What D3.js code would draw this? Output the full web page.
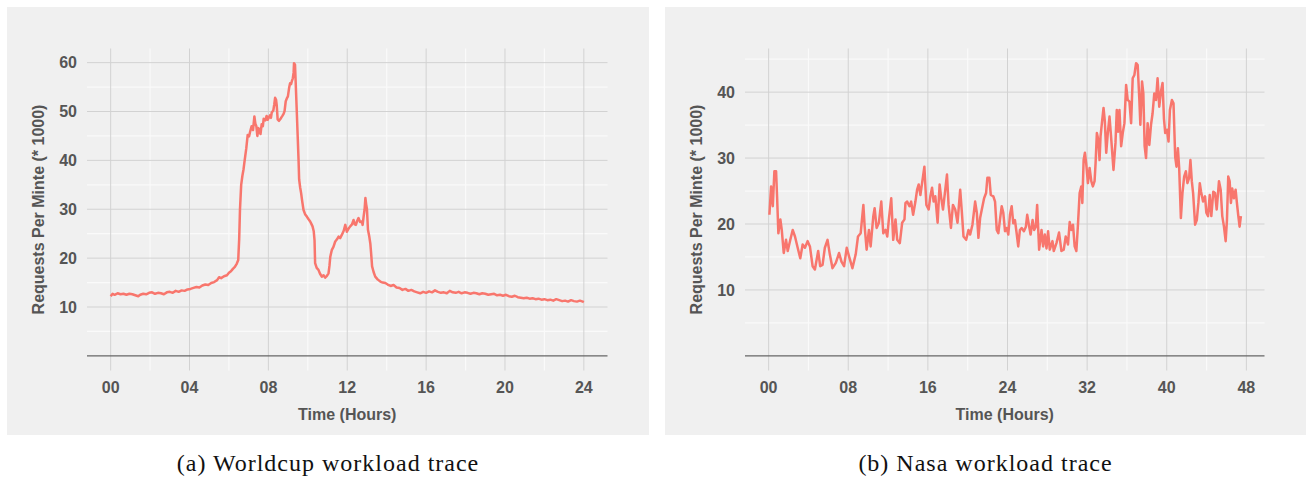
<!DOCTYPE html>
<html lang="en">
<head>
<meta charset="utf-8">
<title>Workload traces</title>
<script src="https://cdnjs.cloudflare.com/ajax/libs/d3/7.8.5/d3.min.js"></script>
<style>
  body { margin: 0; background: #fff; }
  .tick-label { font-family: "Liberation Sans", Arial, sans-serif; font-weight: bold; font-size: 16px; fill: #555; }
  .axis-title { font-family: "Liberation Sans", Arial, sans-serif; font-weight: bold; font-size: 16px; fill: #555; }
  .caption { font-family: "Liberation Serif", "Times New Roman", serif; font-size: 24px; letter-spacing: 1px; fill: #111; }
</style>
</head>
<body>
<div id="chart"></div>
<script>
// Worldcup trace (hours, requests per minute * 1000)
const wcHours = [0.0,0.1,0.2,0.35,0.5,0.65,0.8,0.95,1.1,1.25,1.4,1.5,1.65,1.8,1.95,2.1,2.25,2.4,2.55,2.7,2.85,3.0,3.15,3.3,3.45,3.6,3.75,3.9,4.05,4.2,4.35,4.5,4.65,4.8,4.95,5.1,5.25,5.4,5.5,5.6,5.75,5.9,6.0,6.1,6.2,6.3,6.4,6.47,6.52,6.56,6.62,6.68,6.74,6.8,6.88,6.95,7.02,7.07,7.15,7.22,7.29,7.34,7.39,7.44,7.5,7.56,7.6,7.66,7.72,7.76,7.84,7.91,7.96,8.0,8.08,8.13,8.17,8.25,8.3,8.34,8.39,8.42,8.47,8.54,8.6,8.66,8.71,8.77,8.82,8.88,8.95,8.99,9.05,9.1,9.15,9.19,9.24,9.28,9.3,9.35,9.39,9.44,9.49,9.53,9.56,9.61,9.66,9.72,9.78,9.86,9.95,10.03,10.12,10.18,10.24,10.3,10.34,10.37,10.45,10.54,10.62,10.71,10.8,10.88,10.96,11.05,11.1,11.14,11.22,11.3,11.39,11.47,11.56,11.64,11.73,11.82,11.9,11.98,12.06,12.15,12.24,12.32,12.38,12.44,12.5,12.57,12.65,12.74,12.78,12.83,12.88,12.92,12.96,13.0,13.05,13.11,13.17,13.22,13.26,13.34,13.42,13.55,13.68,13.8,13.93,14.05,14.2,14.35,14.5,14.65,14.8,14.95,15.1,15.25,15.4,15.55,15.7,15.85,16.0,16.15,16.3,16.45,16.6,16.75,16.9,17.05,17.2,17.35,17.5,17.65,17.8,17.95,18.1,18.25,18.4,18.55,18.7,18.85,19.0,19.15,19.3,19.45,19.6,19.75,19.9,20.05,20.2,20.35,20.5,20.65,20.8,20.95,21.1,21.25,21.4,21.55,21.7,21.85,22.0,22.15,22.3,22.45,22.6,22.75,22.9,23.05,23.2,23.35,23.5,23.65,23.8,23.95,24.0];
const wcLoad = [12.2,12.7,12.5,12.8,12.6,12.7,12.5,12.7,12.6,12.4,12.2,12.5,12.7,12.6,12.9,13.0,12.7,12.9,12.8,12.6,13.0,13.1,12.9,13.3,13.1,13.4,13.3,13.6,13.7,13.9,14.1,14.0,14.4,14.6,14.5,14.9,15.1,15.5,16.1,15.9,16.3,16.5,17.0,17.3,17.8,18.2,18.9,19.6,24.0,30.0,35.0,36.8,38.2,40.1,42.5,45.2,44.9,45.8,47.0,46.2,49.0,47.5,47.0,45.0,46.6,46.0,45.4,47.4,47.0,48.5,48.2,49.1,48.3,48.6,49.2,48.7,49.8,50.2,51.5,52.8,52.4,51.4,48.4,48.1,48.4,48.8,49.1,49.5,50.1,52.1,52.8,53.1,54.8,55.8,55.6,56.2,56.8,58.0,59.9,59.6,55.4,50.0,44.5,40.1,36.1,34.5,33.3,31.5,29.9,29.0,28.5,28.0,27.5,27.0,26.5,25.5,23.7,19.0,18.0,17.6,16.8,16.2,16.5,16.0,16.3,16.9,18.5,20.3,21.7,22.3,23.4,23.8,24.4,24.1,24.8,25.6,26.8,25.4,26.0,26.5,26.9,27.8,26.9,26.8,27.6,28.2,27.4,27.5,26.8,28.5,30.0,32.3,31.0,30.0,25.8,24.6,23.0,20.5,18.3,17.1,16.2,15.6,15.2,15.0,14.9,14.6,14.3,14.5,14.0,13.9,13.5,13.7,13.3,13.5,13.2,13.0,12.8,13.1,12.9,13.2,13.0,13.4,13.1,12.9,13.0,12.8,13.3,13.0,12.9,13.1,12.8,13.0,12.9,12.7,12.9,12.8,12.6,12.8,12.7,12.5,12.6,12.7,12.4,12.5,12.3,12.5,12.2,12.1,12.3,12.0,11.9,11.8,11.9,11.7,11.8,11.6,11.7,11.5,11.6,11.4,11.5,11.3,11.6,11.4,11.2,11.3,11.1,11.4,11.2,11.1,11.3,11.1,11.0];

// Nasa trace (hours, requests per minute * 1000)
const nasaHours = [0.08,0.25,0.42,0.58,0.75,0.85,0.98,1.18,1.32,1.52,1.75,1.92,2.18,2.42,2.65,2.92,3.18,3.42,3.65,3.92,4.15,4.42,4.65,4.98,5.18,5.42,5.65,5.92,6.15,6.42,6.75,7.08,7.32,7.58,7.85,8.08,8.42,8.75,8.98,9.25,9.52,9.65,9.85,10.08,10.25,10.52,10.65,10.85,11.08,11.32,11.52,11.75,11.92,12.08,12.32,12.52,12.75,12.92,13.18,13.42,13.65,13.75,13.92,14.15,14.32,14.52,14.75,14.92,15.08,15.25,15.42,15.65,15.85,16.08,16.25,16.42,16.58,16.75,16.98,17.18,17.32,17.52,17.75,17.92,18.08,18.32,18.52,18.75,18.98,19.25,19.42,19.58,19.85,20.08,20.25,20.48,20.75,20.92,21.08,21.25,21.42,21.65,21.85,21.98,22.18,22.32,22.58,22.75,22.92,23.08,23.25,23.42,23.58,23.75,23.92,24.08,24.25,24.42,24.58,24.75,24.92,25.08,25.25,25.42,25.65,25.85,25.98,26.18,26.32,26.52,26.68,26.85,26.98,27.18,27.42,27.58,27.75,27.92,28.08,28.25,28.52,28.65,28.92,29.18,29.42,29.65,29.85,30.08,30.25,30.42,30.58,30.75,30.92,31.08,31.25,31.42,31.52,31.65,31.78,31.92,32.08,32.25,32.42,32.58,32.75,32.85,32.98,33.12,33.25,33.35,33.52,33.65,33.78,33.92,34.08,34.25,34.42,34.65,34.85,34.98,35.12,35.25,35.42,35.58,35.75,35.92,36.08,36.25,36.42,36.58,36.75,36.92,37.08,37.25,37.35,37.52,37.65,37.78,37.92,38.08,38.25,38.42,38.58,38.75,38.92,39.08,39.25,39.42,39.58,39.72,39.85,40.02,40.18,40.32,40.52,40.68,40.85,40.98,41.12,41.25,41.42,41.58,41.75,41.92,42.08,42.25,42.38,42.52,42.65,42.85,43.02,43.18,43.32,43.45,43.65,43.85,43.98,44.15,44.32,44.48,44.68,44.85,45.02,45.25,45.42,45.58,45.75,45.92,46.05,46.18,46.32,46.45,46.58,46.75,46.92,47.05,47.18,47.32,47.45];
const nasaLoad = [21.4,25.7,22.7,28.0,28.0,24.2,18.6,20.7,19.1,15.6,17.6,15.9,17.6,19.1,18.1,16.4,14.8,16.9,16.4,17.4,16.6,13.6,13.1,15.9,13.6,13.8,16.4,17.6,15.4,13.3,14.1,15.6,14.3,13.6,16.4,15.1,13.3,15.4,18.1,18.6,22.9,19.6,16.1,19.1,16.6,21.2,22.4,19.4,20.2,23.4,18.6,19.1,18.1,20.7,23.9,17.6,20.7,17.6,17.1,20.2,20.7,23.2,23.4,22.7,23.4,21.4,23.4,25.2,26.0,24.4,26.2,28.7,22.9,22.2,24.2,25.5,23.4,24.2,20.2,26.0,24.2,22.2,25.2,27.5,22.9,19.4,22.9,22.2,20.2,25.2,21.7,18.1,17.6,19.1,18.4,19.9,23.4,21.7,17.9,20.9,22.2,23.9,24.7,27.0,27.0,24.4,24.2,23.4,19.1,18.6,20.7,22.7,21.7,18.9,19.4,18.4,21.4,22.7,20.1,20.6,18.6,16.6,19.1,19.4,18.9,19.6,21.4,19.6,18.4,20.6,19.1,19.6,22.9,16.1,19.1,16.6,18.4,16.3,18.9,16.1,17.4,15.9,17.1,18.7,15.9,16.1,18.1,16.9,20.3,19.1,19.9,16.6,15.9,19.9,24.7,25.7,23.2,29.7,30.8,29.0,26.2,28.5,26.5,25.7,26.5,29.2,33.8,32.8,29.7,33.3,35.8,37.6,35.6,30.8,33.8,36.3,33.0,28.2,32.3,37.3,34.0,37.3,31.8,33.8,35.3,41.1,38.8,38.6,35.3,42.1,42.6,44.4,44.1,38.8,35.05,41.6,39.8,31.8,30.0,35.3,32.0,35.05,36.8,39.8,38.8,42.1,37.8,40.1,41.4,36.0,33.8,34.3,32.5,37.3,38.8,38.3,30.2,28.7,31.5,28.5,20.9,24.7,27.2,28.0,26.2,27.0,29.7,26.5,24.7,19.9,20.6,23.2,26.2,24.9,23.4,24.2,21.7,21.2,24.4,21.2,24.9,24.7,22.2,26.5,25.2,21.2,19.6,17.4,20.6,27.2,26.5,23.2,25.4,23.9,25.2,23.2,21.4,19.6,21.2];

const wcXTicks = [0, 4, 8, 12, 16, 20, 24];
const wcYTicks = [10, 20, 30, 40, 50, 60];
const nasaXTicks = [0, 8, 16, 24, 32, 40, 48];
const nasaYTicks = [10, 20, 30, 40];

const yTitle = "Requests Per Minte (* 1000)";
const xTitle = "Time (Hours)";
const captions = ["(a) Worldcup workload trace", "(b) Nasa workload trace"];

const width = 1306, height = 480;
const svg = d3.select("#chart").append("svg")
  .attr("width", width).attr("height", height);

function drawPanel(px, pw, hours, load, xTicks, yTicks, caption) {
  const g = svg.append("g");
  const panelTop = 7, panelH = 428;
  const plot = {left: px + 80, right: px + pw - 41.5, top: 48.5, bottom: 370.5};

  g.append("rect")
    .attr("x", px).attr("y", panelTop)
    .attr("width", pw).attr("height", panelH)
    .attr("fill", "#f0f0f0");

  // ggplot style 5% expansion
  const xMax = d3.max(hours), yMax = d3.max(load);
  const x = d3.scaleLinear()
    .domain([-xMax * 0.05, xMax * 1.05])
    .range([plot.left, plot.right]);
  const y = d3.scaleLinear()
    .domain([-yMax * 0.05, yMax * 1.05])
    .range([plot.bottom, plot.top]);

  const xStep = xTicks[1] - xTicks[0], yStep = yTicks[1] - yTicks[0];
  const xMinor = d3.range(xTicks[0] - xStep / 2, x.domain()[1], xStep).filter(d => d > x.domain()[0]);
  const yMinor = d3.range(yStep / 2, y.domain()[1], yStep);

  // minor grid (white)
  g.append("g").selectAll("line").data(xMinor).join("line")
    .attr("x1", d => x(d)).attr("x2", d => x(d))
    .attr("y1", plot.top).attr("y2", plot.bottom)
    .attr("stroke", "#fafafa").attr("stroke-width", 1.2);
  g.append("g").selectAll("line").data(yMinor).join("line")
    .attr("x1", plot.left).attr("x2", plot.right)
    .attr("y1", d => y(d)).attr("y2", d => y(d))
    .attr("stroke", "#fafafa").attr("stroke-width", 1.2);

  // major grid
  g.append("g").selectAll("line").data(xTicks).join("line")
    .attr("x1", d => x(d)).attr("x2", d => x(d))
    .attr("y1", plot.top).attr("y2", plot.bottom)
    .attr("stroke", "#d2d2d2").attr("stroke-width", 1);
  g.append("g").selectAll("line").data(yTicks).join("line")
    .attr("x1", plot.left).attr("x2", plot.right)
    .attr("y1", d => y(d)).attr("y2", d => y(d))
    .attr("stroke", "#d2d2d2").attr("stroke-width", 1);

  // zero line
  g.append("line")
    .attr("x1", plot.left).attr("x2", plot.right)
    .attr("y1", y(0)).attr("y2", y(0))
    .attr("stroke", "#666").attr("stroke-width", 1.2);

  // tick labels
  g.append("g").selectAll("text").data(xTicks).join("text")
    .attr("class", "tick-label")
    .attr("x", d => x(d)).attr("y", 393)
    .attr("text-anchor", "middle")
    .text(d3.format("02d"));
  g.append("g").selectAll("text").data(yTicks).join("text")
    .attr("class", "tick-label")
    .attr("x", plot.left - 10).attr("y", d => y(d))
    .attr("dy", "0.36em")
    .attr("text-anchor", "end")
    .text(d => d);

  // axis titles
  g.append("text").attr("class", "axis-title")
    .attr("x", (plot.left + plot.right) / 2).attr("y", 420)
    .attr("text-anchor", "middle")
    .text(xTitle);
  g.append("text").attr("class", "axis-title")
    .attr("transform", `translate(${px + 31},${(plot.top + plot.bottom) / 2}) rotate(-90)`)
    .attr("text-anchor", "middle")
    .attr("dy", "0.35em")
    .text(yTitle);

  // trace
  const line = d3.line()
    .x((d, i) => x(hours[i]))
    .y(d => y(d));
  g.append("path")
    .datum(load)
    .attr("d", line)
    .attr("fill", "none")
    .attr("stroke", "#f8766d")
    .attr("stroke-width", 2.5)
    .attr("stroke-linejoin", "round");

  // caption
  g.append("text").attr("class", "caption")
    .attr("x", px + pw / 2).attr("y", 471)
    .attr("text-anchor", "middle")
    .text(caption);
}

drawPanel(7, 642, wcHours, wcLoad, wcXTicks, wcYTicks, captions[0]);
drawPanel(665, 641, nasaHours, nasaLoad, nasaXTicks, nasaYTicks, captions[1]);
</script>
</body>
</html>
